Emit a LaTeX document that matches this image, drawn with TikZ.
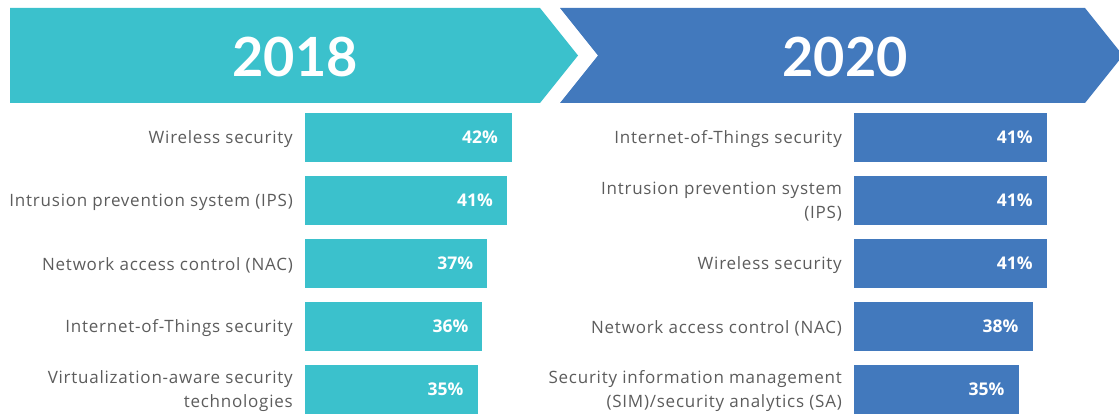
\documentclass[tikz,border=0pt]{standalone}
\usepackage{fontspec}
\setmainfont{Lato}
\newfontfamily\labfont[LetterSpace=4.5]{Open Sans}
\newfontfamily\pctfont{Open Sans}
\definecolor{tealc}{RGB}{59,193,204}
\definecolor{bluec}{RGB}{66,121,189}
\definecolor{labc}{RGB}{92,92,92}
\tikzset{
  bar/.style={minimum height=49pt, inner sep=0pt, outer sep=0pt, anchor=north west},
  barA/.style={bar, fill=tealc},
  barB/.style={bar, fill=bluec},
  pct/.style={anchor=east, text=white, font=\pctfont\fontsize{17.5}{20}\selectfont\bfseries, inner sep=0pt},
  lab/.style={anchor=east, text=labc, align=right, font=\labfont\fontsize{17}{24}\selectfont, inner sep=0pt},
  year/.style={text=white, font=\fontsize{54}{60}\selectfont\bfseries, inner sep=0pt}
}
\begin{document}
\begin{tikzpicture}[x=1pt,y=-1pt]
\useasboundingbox (0,0) rectangle (1119,414);
% chevrons
\fill[tealc] (10,8) -- (540,8) -- (578,55.5) -- (540,103) -- (10,103) -- cycle;
\fill[bluec] (560,8) -- (1085,8) -- (1123,55.5) -- (1085,103) -- (560,103) -- (598,55.5) -- cycle;
\node[year] (y18) at (295,57) {2018};
\node[year] (y20) at (845,57) {2020};
% 2018 bars (4.93 px per percent)
\foreach \i/\p/\t in {1/42/{Wireless security},2/41/{Intrusion prevention system (IPS)},3/37/{Network access control (NAC)},4/36/{Internet-of-Things security},5/35/{Virtualization-aware security\\technologies}}{
  \node[barA, minimum width=4.93*\p pt] (a\i) at (305,{113+63*(\i-1)}) {};
  \node[pct] (ap\i) at ([xshift=-14pt]a\i.east) {\p\%};
  \node[lab] (al\i) at ([xshift=-12pt,yshift=-1.5pt]a\i.west) {\t};
}
% 2020 bars (4.7 px per percent)
\foreach \i/\p/\t in {1/41/{Internet-of-Things security},2/41/{Intrusion prevention system\\(IPS)},3/41/{Wireless security},4/38/{Network access control (NAC)},5/35/{Security information management\\(SIM)/security analytics (SA)}}{
  \node[barB, minimum width=4.7*\p pt] (b\i) at (854,{113+63*(\i-1)}) {};
  \node[pct] (bp\i) at ([xshift=-14pt]b\i.east) {\p\%};
  \node[lab] (bl\i) at ([xshift=-12pt,yshift=-1.5pt]b\i.west) {\t};
}
\end{tikzpicture}
\end{document}
